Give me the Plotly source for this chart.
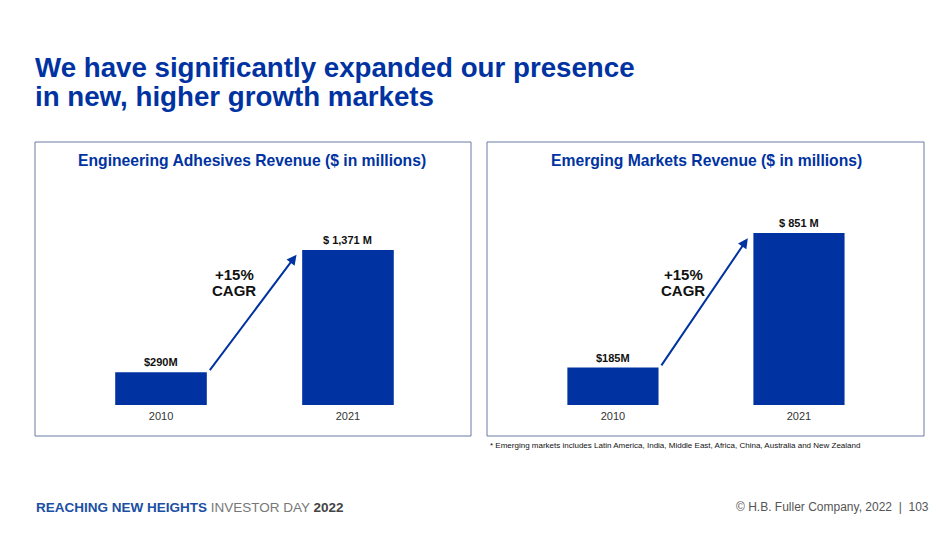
import plotly.graph_objects as go

# ---- data ----
years = ["2010", "2021"]
eng_values = [290, 1371]
eng_labels = ["$290M", "$ 1,371 M"]
em_values = [185, 851]
em_labels = ["$185M", "$ 851 M"]
cagr_lines = ["+15%", "CAGR"]

title_lines = ["We have significantly expanded our presence", "in new, higher growth markets"]
eng_title = "Engineering Adhesives Revenue ($ in millions)"
em_title = "Emerging Markets Revenue ($ in millions)"
footnote = "* Emerging markets includes Latin America, India, Middle East, Africa, China, Australia and New Zealand"

BLUE = "#0033A1"
W, H = 950, 534
OFF = 8  # page body margin


def px(x):
    return (x - OFF) / W


def py(y):
    return 1 - (y - OFF) / H


FONT = "Liberation Sans, Arial"

fig = go.Figure()

for xa, ya, vals in [("x", "y", eng_values), ("x2", "y2", em_values)]:
    fig.add_trace(go.Bar(x=years, y=vals, xaxis=xa, yaxis=ya, width=0.49,
                         marker=dict(color=BLUE, line=dict(width=0)),
                         hoverinfo="skip", showlegend=False))

axis_common = dict(showgrid=False, zeroline=False, showline=False, ticks="",
                   tickfont=dict(family=FONT, size=11, color="#333333"),
                   ticklabelstandoff=3, fixedrange=True)

fig.update_layout(
    width=W, height=H,
    margin=dict(l=0, r=0, t=0, b=0),
    paper_bgcolor="white", plot_bgcolor="rgba(0,0,0,0)",
    xaxis=dict(domain=[px(35), px(471)], range=[-0.674, 1.658], type="category", anchor="y", **axis_common),
    yaxis=dict(domain=[py(405), py(142)], range=[0, 2326], visible=False, anchor="x"),
    xaxis2=dict(domain=[px(487), px(924)], range=[-0.677, 1.672], type="category", anchor="y2", **axis_common),
    yaxis2=dict(domain=[py(405), py(142)], range=[0, 1301], visible=False, anchor="x2"),
)

# panel boxes
for x0, x1 in [(35, 471), (487, 924)]:
    fig.add_shape(type="rect", xref="paper", yref="paper",
                  x0=px(x0), x1=px(x1), y0=py(436), y1=py(142),
                  line=dict(color="#6a7ba6", width=1), fillcolor="rgba(0,0,0,0)")

ann = []
# main title (two lines, tight spacing)
for line, ycen in zip(title_lines, [67.5, 97]):
    ann.append(dict(text="<b>" + line + "</b>", xref="paper", yref="paper", x=px(33), y=py(ycen),
                    xanchor="left", yanchor="middle", align="left", showarrow=False,
                    font=dict(family=FONT, size=27.7, color=BLUE)))
# panel titles
ann.append(dict(text="<b>" + eng_title + "</b>", xref="paper", yref="paper", x=px(252), y=py(160),
                xanchor="center", yanchor="middle", showarrow=False,
                font=dict(family=FONT, size=15.7, color=BLUE)))
ann.append(dict(text="<b>" + em_title + "</b>", xref="paper", yref="paper", x=px(706), y=py(160),
                xanchor="center", yanchor="middle", showarrow=False,
                font=dict(family=FONT, size=15.7, color=BLUE)))

# value labels
for xr, yr, vals, labs in [("x", "y", eng_values, eng_labels), ("x2", "y2", em_values, em_labels)]:
    for i, (v, lab) in enumerate(zip(vals, labs)):
        ann.append(dict(text="<b>" + lab + "</b>", xref=xr, yref=yr, x=i, y=v,
                        yanchor="bottom", yshift=2, showarrow=False,
                        font=dict(family=FONT, size=11, color="#111111")))

# arrows (tail at top-right of first bar, head near top-left of second bar)
for xr, yr, vals in [("x", "y", eng_values), ("x2", "y2", em_values)]:
    ann.append(dict(text="", xref=xr, yref=yr, axref=xr, ayref=yr,
                    x=0.725, y=vals[1] * 0.97, ax=0.255, ay=vals[0] * 1.02,
                    showarrow=True, arrowhead=2, arrowsize=1, arrowwidth=2, arrowcolor=BLUE))

# CAGR labels
for xpix in [234, 683]:
    for line, ycen in zip(cagr_lines, [274, 290]):
        ann.append(dict(text="<b>" + line + "</b>", xref="paper", yref="paper", x=px(xpix), y=py(ycen),
                        xanchor="center", yanchor="middle", showarrow=False,
                        font=dict(family=FONT, size=15, color="#111111")))

# footnote
ann.append(dict(text=footnote, xref="paper", yref="paper", x=px(488), y=py(445),
                xanchor="left", yanchor="middle", showarrow=False,
                font=dict(family=FONT, size=8, color="#111111")))

# footer
ann.append(dict(text="<b><span style='color:#1a4fa3'>REACHING NEW HEIGHTS</span></b>"
                     "<span style='color:#777777'> INVESTOR DAY </span>"
                     "<b><span style='color:#444444'>2022</span></b>",
                xref="paper", yref="paper", x=px(34), y=py(507),
                xanchor="left", yanchor="middle", showarrow=False,
                font=dict(family=FONT, size=13.5, color="#777777")))
ann.append(dict(text="© H.B. Fuller Company, 2022  |  103", xref="paper", yref="paper", x=px(931), y=py(507),
                xanchor="right", yanchor="middle", showarrow=False,
                font=dict(family=FONT, size=12, color="#555555")))

fig.update_layout(annotations=ann)

fig.write_html("out.html")
